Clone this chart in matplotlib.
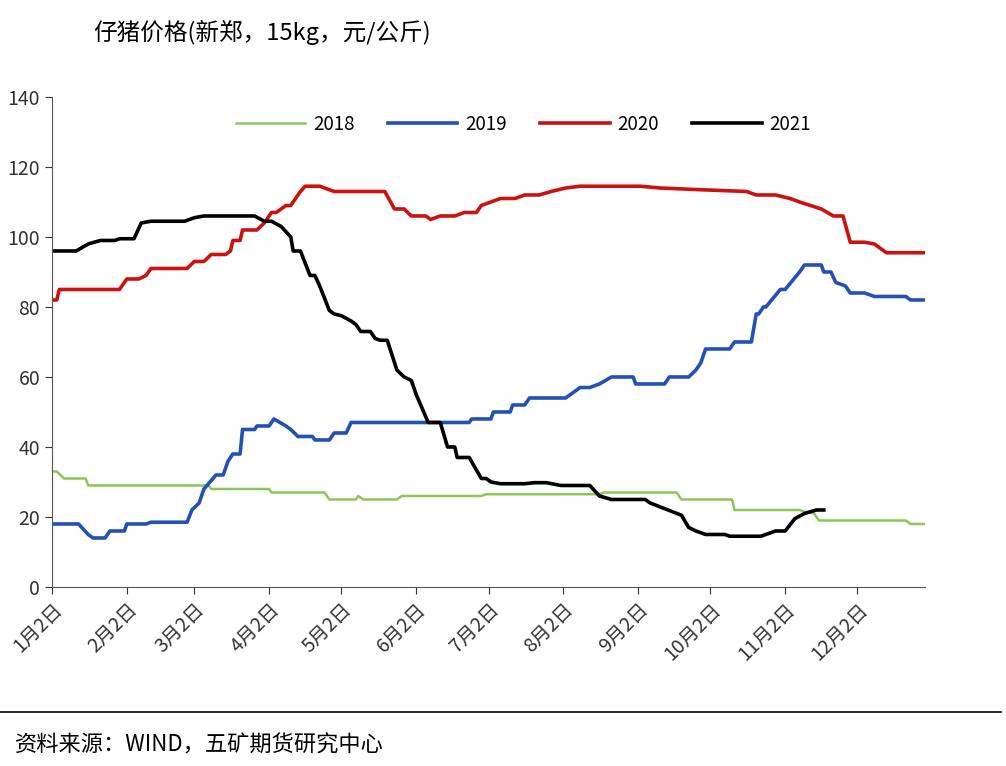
import matplotlib
matplotlib.use('Agg')
import matplotlib.pyplot as plt

plt.rcParams['font.family'] = ['Noto Sans CJK SC', 'DejaVu Sans']

# 日期为距1月2日的天数
d2018 = [0, 2, 5, 10, 14, 15, 65, 66, 90, 91, 113, 115, 126, 127, 129, 143, 145, 178, 180, 227, 229, 259, 261, 282, 283, 310, 312, 316, 318, 354, 356, 362]
v2018 = [33, 33, 31, 31, 31, 29, 29, 28, 28, 27, 27, 25, 25, 26, 25, 25, 26, 26, 26.5, 26.5, 27, 27, 25, 25, 22, 22, 21.5, 21, 19, 19, 18, 18]

d2019 = [0, 11, 15, 17, 22, 24, 30, 31, 39, 41, 56, 58, 61, 63, 68, 71, 73, 75, 78, 79, 84, 85, 90, 92, 97, 99, 102, 108, 109, 115, 117, 122, 124, 173, 174, 182, 183, 190, 191, 196, 198, 213, 215, 219, 223, 227, 232, 241, 242, 254, 256, 264, 267, 269, 271, 281, 283, 290, 292, 293, 295, 296, 302, 304, 310, 312, 319, 320, 323, 325, 329, 331, 337, 341, 354, 356, 362]
v2019 = [18, 18, 15, 14, 14, 16, 16, 18, 18, 18.5, 18.5, 22, 24, 28, 32, 32, 36, 38, 38, 45, 45, 46, 46, 48, 46, 45, 43, 43, 42, 42, 44, 44, 47, 47, 48, 48, 50, 50, 52, 52, 54, 54, 55, 57, 57, 58, 60, 60, 58, 58, 60, 60, 62, 64, 68, 68, 70, 70, 78, 78, 80, 80, 85, 85, 90, 92, 92, 90, 90, 87, 86, 84, 84, 83, 83, 82, 82]

d2020 = [0, 2, 3, 28, 31, 36, 39, 41, 56, 59, 63, 66, 72, 74, 75, 78, 79, 85, 88, 91, 93, 97, 99, 103, 105, 111, 115, 117, 138, 142, 146, 149, 155, 157, 161, 167, 171, 176, 178, 182, 186, 192, 196, 202, 207, 213, 219, 244, 252, 269, 288, 292, 300, 306, 310, 319, 324, 328, 331, 337, 341, 346, 350, 362]
v2020 = [82, 82, 85, 85, 88, 88, 89, 91, 91, 93, 93, 95, 95, 96, 99, 99, 102, 102, 104, 107, 107, 109, 109, 113, 114.5, 114.5, 113.5, 113, 113, 108, 108, 106, 106, 105, 106, 106, 107, 107, 109, 110, 111, 111, 112, 112, 113, 114, 114.5, 114.5, 114, 113.5, 113, 112, 112, 111, 110, 108, 106, 106, 98.5, 98.5, 98, 95.5, 95.5, 95.5]

d2021 = [0, 10, 15, 20, 26, 28, 34, 37, 41, 55, 59, 63, 78, 84, 88, 91, 95, 99, 100, 103, 107, 109, 111, 115, 117, 120, 124, 126, 128, 132, 134, 136, 139, 143, 146, 149, 151, 156, 161, 164, 167, 168, 173, 178, 180, 182, 186, 196, 200, 205, 211, 223, 227, 232, 246, 248, 261, 264, 267, 271, 279, 281, 294, 296, 300, 304, 308, 312, 317, 320]
v2021 = [96, 96, 98, 99, 99, 99.5, 99.5, 104, 104.5, 104.5, 105.5, 106, 106, 106, 104.5, 104.5, 103, 100, 96, 96, 89, 89, 86, 79, 78, 77.5, 76, 75, 73, 73, 71, 70.5, 70.5, 62, 60, 59, 55, 47, 47, 40, 40, 37, 37, 31, 31, 30, 29.5, 29.5, 29.8, 29.8, 29, 29, 26, 25, 25, 24, 20.5, 17, 16, 15, 15, 14.5, 14.5, 15, 16, 16, 19.5, 21, 22, 22]

tick_days = [0, 31, 59, 90, 120, 151, 181, 212, 243, 273, 304, 334]
tick_labels = ['1月2日', '2月2日', '3月2日', '4月2日', '5月2日', '6月2日', '7月2日',
               '8月2日', '9月2日', '10月2日', '11月2日', '12月2日']

fig = plt.figure(figsize=(10.06, 7.66), dpi=100)
ax = fig.add_axes([0.0517, 0.2337, 0.8678, 0.6397])

ax.plot(d2018, v2018, color='#8cc65a', lw=1.8, label='2018')
ax.plot(d2019, v2019, color='#2351b5', lw=2.6, label='2019')
ax.plot(d2020, v2020, color='#cc1111', lw=2.6, label='2020')
ax.plot(d2021, v2021, color='black', lw=2.6, label='2021')

ax.set_xlim(0, 362)
ax.set_ylim(0, 140)
ax.set_yticks(range(0, 141, 20))
ax.set_xticks(tick_days)
ax.set_xticklabels(tick_labels, rotation=45, ha='right', rotation_mode='anchor')
ax.tick_params(axis='both', labelsize=14, colors='#333333', direction='out', length=5)
ax.spines['top'].set_visible(False)
ax.spines['right'].set_visible(False)
ax.spines['left'].set_color('#555555')
ax.spines['bottom'].set_color('#555555')

ax.legend(loc='upper center', bbox_to_anchor=(0.54, 1.0), ncol=4, frameon=False,
          fontsize=13.5, handlelength=3.7, handletextpad=0.4, columnspacing=1.8)

fig.text(0.093, 0.958, '仔猪价格(新郑，15kg，元/公斤)', fontsize=17, va='center')
fig.add_artist(plt.Line2D([0, 0.995], [0.07, 0.07], color='black', lw=1.2))
fig.text(0.015, 0.027, '资料来源：WIND，五矿期货研究中心', fontsize=16, va='center')

fig.savefig('out.png', dpi=100)
